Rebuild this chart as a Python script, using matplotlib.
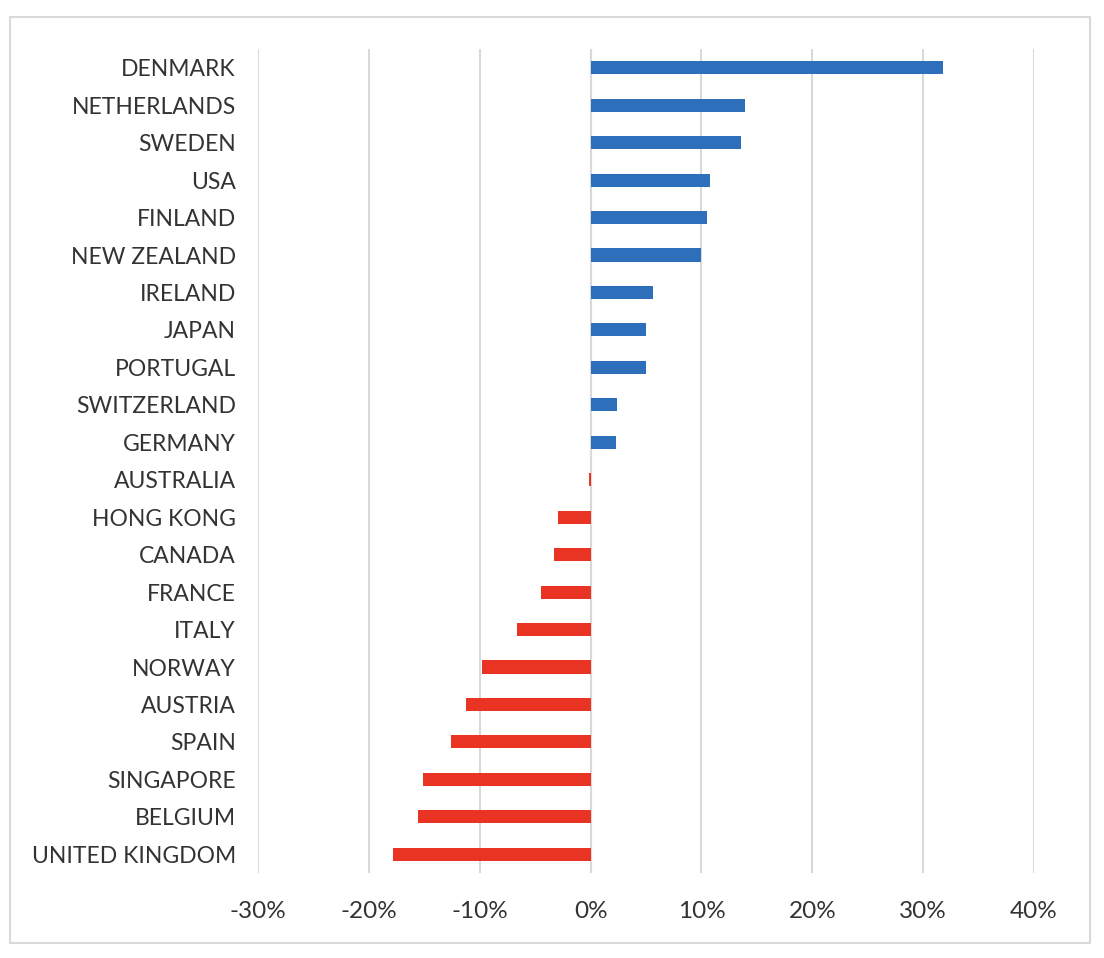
import matplotlib
matplotlib.use("Agg")
import matplotlib.pyplot as plt
from matplotlib.patches import Rectangle
from matplotlib.ticker import FuncFormatter

countries = ["DENMARK", "NETHERLANDS", "SWEDEN", "USA", "FINLAND", "NEW ZEALAND",
             "IRELAND", "JAPAN", "PORTUGAL", "SWITZERLAND", "GERMANY", "AUSTRALIA",
             "HONG KONG", "CANADA", "FRANCE", "ITALY", "NORWAY", "AUSTRIA", "SPAIN",
             "SINGAPORE", "BELGIUM", "UNITED KINGDOM"]
values = [31.8, 13.9, 13.6, 10.8, 10.5, 10.0,
          5.6, 5.0, 5.0, 2.4, 2.3, -0.15,
          -2.9, -3.3, -4.5, -6.6, -9.8, -11.2, -12.6,
          -15.1, -15.6, -17.8]
xticks = [-30, -20, -10, 0, 10, 20, 30, 40]

BLUE = "#2E6FBB"
RED = "#E93323"
TEXT = "#333333"

plt.rcParams['font.family'] = ['Lato', 'DejaVu Sans']

fig = plt.figure(figsize=(11.04, 9.58), dpi=100)
ax = fig.add_axes([258/1104, 1 - 873/958, (1034 - 258)/1104, (873 - 49)/958])

n = len(countries)
ypos = list(range(n))
colors = [BLUE if v >= 0 else RED for v in values]
ax.barh(ypos, values, height=0.35, color=colors, zorder=3)

ax.set_ylim(n - 0.5, -0.5)
ax.set_xlim(-30, 40)
ax.set_xticks(xticks)
ax.xaxis.set_major_formatter(FuncFormatter(lambda v, p: f"{v:.0f}%"))
ax.set_yticks(ypos)
ax.set_yticklabels(countries)

ax.grid(axis='x', color="#D9D9D9", linewidth=1.5, zorder=0)
ax.axvline(0, color="#D9D9D9", linewidth=1.5, zorder=1)
for s in ax.spines.values():
    s.set_visible(False)
ax.tick_params(axis='y', length=0, labelsize=16.5, labelcolor=TEXT, pad=16)
ax.tick_params(axis='x', length=0, labelsize=17.5, labelcolor=TEXT, pad=20)

fig.patches.append(Rectangle((10/1104, 1 - 943/958), 1080/1104, 926/958,
                             transform=fig.transFigure, fill=False,
                             edgecolor="#D9D9D9", linewidth=1.5))

fig.savefig("out.png", dpi=100, facecolor="white")
